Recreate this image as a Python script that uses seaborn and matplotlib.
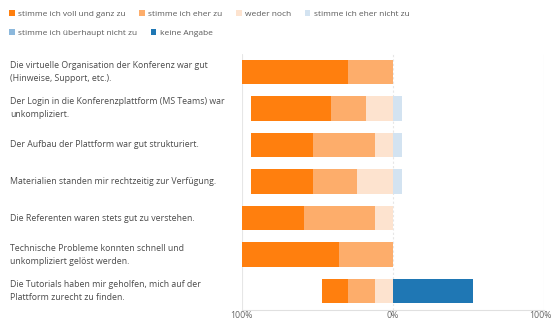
import matplotlib
matplotlib.use("Agg")
import matplotlib.pyplot as plt
import matplotlib.transforms as mtransforms
from matplotlib.patches import Patch
import numpy as np
import pandas as pd
import seaborn as sns

# ---- data (counts of respondents, n = 17) ----
categories = [
    "Die virtuelle Organisation der Konferenz war gut\n(Hinweise, Support, etc.).",
    "Der Login in die Konferenzplattform (MS Teams) war\nunkompliziert.",
    "Der Aufbau der Plattform war gut strukturiert.",
    "Materialien standen mir rechtzeitig zur Verfügung.",
    "Die Referenten waren stets gut zu verstehen.",
    "Technische Probleme konnten schnell und\nunkompliziert gelöst werden.",
    "Die Tutorials haben mir geholfen, mich auf der\nPlattform zurecht zu finden.",
]
voll = [12, 9, 7, 7, 7, 11, 3]
eher = [5, 4, 7, 5, 8, 6, 3]
weder = [0, 3, 2, 4, 2, 0, 2]
eher_nicht = [0, 1, 1, 1, 0, 0, 0]
ueberhaupt = [0, 0, 0, 0, 0, 0, 0]
keine = [0, 0, 0, 0, 0, 0, 9]
legend_labels = ["stimme ich voll und ganz zu", "stimme ich eher zu", "weder noch",
                 "stimme ich eher nicht zu", "stimme ich überhaupt nicht zu", "keine Angabe"]
tick_values = [-100, 0, 100]
tick_labels = ["100%", "0%", "100%"]

colors = ["#ff7f0e", "#fdad6b", "#fde3cf", "#d3e3f1", "#8cb8dc", "#1f77b4"]

sns.set_theme(style="white")
plt.rcParams["font.family"] = ["Open Sans", "DejaVu Sans"]

counts = pd.DataFrame({
    "cat": categories, "voll": voll, "eher": eher, "weder": weder,
    "eher_nicht": eher_nicht, "ueberhaupt": ueberhaupt, "keine": keine,
})
tot = counts[["voll", "eher", "weder", "eher_nicht", "ueberhaupt", "keine"]].sum(axis=1)
pct = counts.copy()
for c in ["voll", "eher", "weder", "eher_nicht", "ueberhaupt", "keine"]:
    pct[c] = counts[c] / tot * 100

fig = plt.figure(figsize=(5.53, 3.21), dpi=100)
ax = fig.add_axes([241.7 / 553, 11.5 / 321, 302 / 553, 256 / 321])

# gridlines behind bars
for v in tick_values:
    ax.axvline(v, color="#e6e6e6", lw=0.8, ls=(0, (2, 2)) if v == 0 else "-", zorder=0)

w = 0.67
# left side (agreement + neutral), drawn outermost first
layers_left = [
    (-(pct["voll"] + pct["eher"] + pct["weder"]), colors[0]),
    (-(pct["eher"] + pct["weder"]), colors[1]),
    (-(pct["weder"]), colors[2]),
]
layers_right = [
    (pct["eher_nicht"] + pct["ueberhaupt"] + pct["keine"], colors[5]),
    (pct["eher_nicht"] + pct["ueberhaupt"], colors[4]),
    (pct["eher_nicht"], colors[3]),
]
for vals, col in layers_left + layers_right:
    df = pd.DataFrame({"cat": categories, "val": vals.values})
    sns.barplot(data=df, x="val", y="cat", orient="h", color=col, width=w,
                saturation=1, ax=ax, linewidth=0, zorder=2)

ax.set_xlim(-100, 100)
ax.set_ylim(6.5, -0.5)
ax.set_xticks(tick_values)
ax.set_xticklabels(tick_labels, fontsize=6.3, color="#666666")
ax.tick_params(axis="x", length=0, pad=1)
last = ax.get_xticklabels()[-1]
last.set_horizontalalignment("right")
last.set_transform(last.get_transform() + mtransforms.ScaledTranslation(8 / 100, 0, fig.dpi_scale_trans))
ax.set_yticks([])
ax.set_xlabel("")
ax.set_ylabel("")
for s in ["top", "right", "left"]:
    ax.spines[s].set_visible(False)
ax.spines["bottom"].set_color("#e0e0e0")
ax.spines["bottom"].set_linewidth(0.8)

trans = mtransforms.blended_transform_factory(fig.transFigure, ax.transData)
for i, lab in enumerate(categories):
    fig.text(10 / 553, i, lab, transform=trans, ha="left", va="center",
             fontsize=6.3, color="#4a4a4a", linespacing=1.55)

# legend in two flowing rows
handles = [Patch(facecolor=c, edgecolor="none") for c in colors]
kw = dict(frameon=False, fontsize=6.0, handlelength=0.7, handleheight=0.7,
          handletextpad=0.4, columnspacing=1.6, labelcolor="#595959",
          borderaxespad=0, borderpad=0, loc="upper left")
leg1 = fig.legend(handles[:4], legend_labels[:4], ncol=4,
                  bbox_to_anchor=(9 / 553, 1 - 10 / 321), **kw)
leg2 = fig.legend(handles[4:], legend_labels[4:], ncol=2,
                  bbox_to_anchor=(9 / 553, 1 - 29 / 321), **kw)

fig.savefig("out.png", dpi=100)
